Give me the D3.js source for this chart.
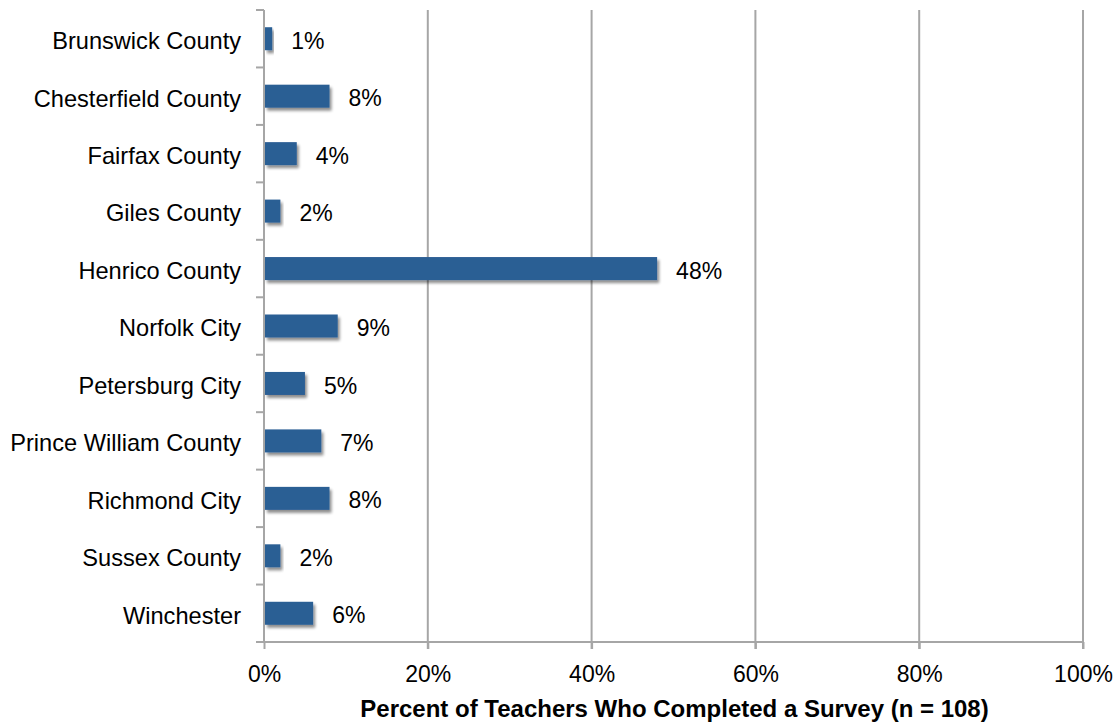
<!DOCTYPE html>
<html>
<head>
<meta charset="utf-8">
<script src="https://cdn.jsdelivr.net/npm/d3@7"></script>
<style>
  html, body { margin: 0; padding: 0; background: #fff; }
  svg { display: block; font-family: "Liberation Sans", Arial, sans-serif; }
</style>
</head>
<body>
<svg id="chart" width="1118" height="725"></svg>
<script>
// Survey share by school division
const divisions = [
  "Brunswick County", "Chesterfield County", "Fairfax County", "Giles County",
  "Henrico County", "Norfolk City", "Petersburg City", "Prince William County",
  "Richmond City", "Sussex County", "Winchester"
];
const percents = [1, 8, 4, 2, 48, 9, 5, 7, 8, 2, 6];
const xTicks = [0, 20, 40, 60, 80, 100];
const xTitle = "Percent of Teachers Who Completed a Survey (n = 108)";

const svg = d3.select("#chart");
const plotLeft = 264, plotRight = 1083, plotTop = 10, plotBottom = 642;

const x = d3.scaleLinear().domain([0, 100]).range([plotLeft, plotRight]);
const band = d3.scaleBand().domain(divisions).range([plotTop, plotBottom]);

const defs = svg.append("defs");
const f = defs.append("filter").attr("id", "shadow")
  .attr("x", "-10%").attr("y", "-30%").attr("width", "130%").attr("height", "190%");
f.append("feGaussianBlur").attr("in", "SourceAlpha").attr("stdDeviation", 1.6).attr("result", "b");
f.append("feOffset").attr("in", "b").attr("dx", 2).attr("dy", 3).attr("result", "o");
f.append("feComponentTransfer").attr("in", "o").attr("result", "s")
  .append("feFuncA").attr("type", "linear").attr("slope", 0.45);
const m = f.append("feMerge");
m.append("feMergeNode").attr("in", "s");
m.append("feMergeNode").attr("in", "SourceGraphic");

// Vertical gridlines
svg.append("g").selectAll("line").data(xTicks.filter(d => d > 0)).join("line")
  .attr("x1", d => x(d)).attr("x2", d => x(d))
  .attr("y1", plotTop).attr("y2", plotBottom + 7)
  .attr("stroke", "#a6a6a6").attr("stroke-width", 2);

// Bottom axis
const xAxis = svg.append("g").attr("transform", `translate(0,${plotBottom})`)
  .call(d3.axisBottom(x).tickValues(xTicks).tickSize(7).tickPadding(17).tickFormat(d => d + "%"));
xAxis.select(".domain").attr("stroke", "#a6a6a6").attr("stroke-width", 2).attr("d", `M${plotLeft},0H${plotRight}`);
xAxis.selectAll(".tick line").attr("stroke", "#a6a6a6").attr("stroke-width", 2);
xAxis.selectAll(".tick text").attr("font-size", 23).attr("fill", "#000")
  .attr("font-family", "Liberation Sans, Arial, sans-serif");

// Left category axis with boundary ticks
svg.append("line").attr("x1", plotLeft).attr("x2", plotLeft).attr("y1", plotTop).attr("y2", plotBottom)
  .attr("stroke", "#a6a6a6").attr("stroke-width", 2);
const bounds = divisions.map(d => band(d)).concat([plotBottom]);
svg.append("g").selectAll("line").data(bounds).join("line")
  .attr("x1", plotLeft - 8).attr("x2", plotLeft).attr("y1", d => d).attr("y2", d => d)
  .attr("stroke", "#a6a6a6").attr("stroke-width", 2);

svg.append("g").selectAll("text").data(divisions).join("text")
  .attr("x", 241).attr("y", d => band(d) + band.bandwidth() / 2)
  .attr("dy", "0.44em").attr("text-anchor", "end")
  .attr("font-size", 23.6).attr("fill", "#000").text(d => d);

// Bars
const rows = divisions.map((d, i) => ({ name: d, value: percents[i] }));
svg.append("g").selectAll("rect").data(rows).join("rect")
  .attr("x", x(0) + 1).attr("y", d => band(d.name) + band.bandwidth() / 2 - 11.5)
  .attr("width", d => x(d.value) - x(0) - 1).attr("height", 23)
  .attr("fill", "#2a5e94").attr("filter", "url(#shadow)");

// Value labels
svg.append("g").selectAll("text").data(rows).join("text")
  .attr("x", d => x(d.value) + 19).attr("y", d => band(d.name) + band.bandwidth() / 2)
  .attr("dy", "0.44em").attr("font-size", 23).attr("fill", "#000")
  .text(d => d.value + "%");

// Axis title
svg.append("text").attr("x", (plotLeft + plotRight) / 2 + 1).attr("y", 717)
  .attr("text-anchor", "middle").attr("font-size", 24).attr("font-weight", "bold")
  .attr("fill", "#000").text(xTitle);
</script>
</body>
</html>
